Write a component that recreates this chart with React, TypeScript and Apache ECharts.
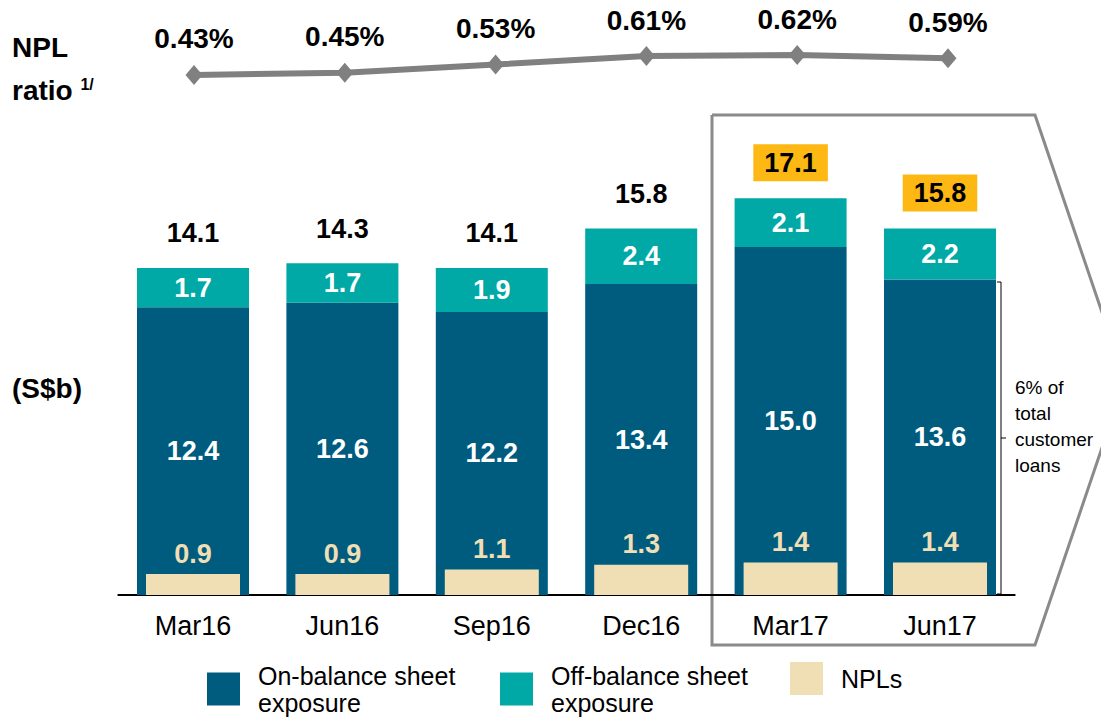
import React, { useEffect, useRef } from "react";
import * as echarts from "echarts";

const categories = ["Mar16", "Jun16", "Sep16", "Dec16", "Mar17", "Jun17"];
const onBalance = [12.4, 12.6, 12.2, 13.4, 15.0, 13.6];
const offBalance = [1.7, 1.7, 1.9, 2.4, 2.1, 2.2];
const npls = [0.9, 0.9, 1.1, 1.3, 1.4, 1.4];
const totals = [14.1, 14.3, 14.1, 15.8, 17.1, 15.8];
const nplRatio = [0.43, 0.45, 0.53, 0.61, 0.62, 0.59];
const highlighted = ["Mar17", "Jun17"];

const FONT = "'Liberation Sans', Arial, sans-serif";
const DARK = "#005C7F";
const TEAL = "#00A9A6";
const BEIGE = "#F0DFB5";
const YELLOW = "#FDB813";
const GREY = "#808080";

const ON_NAME = "On-balance sheet exposure";
const OFF_NAME = "Off-balance sheet exposure";
const NPL_NAME = "NPLs";

const legendText: Record<string, string> = {
  [ON_NAME]: "On-balance sheet\nexposure",
  [OFF_NAME]: "Off-balance sheet\nexposure",
  [NPL_NAME]: "NPLs",
};

function makeLegend(name: string, left: number) {
  return {
    data: [name],
    left,
    top: 662,
    padding: 0,
    orient: "horizontal",
    itemWidth: 33,
    itemHeight: 33,
    icon: "rect",
    selectedMode: false,
    formatter: (n: string) => legendText[n],
    textStyle: {
      fontFamily: FONT,
      fontSize: 25,
      lineHeight: 27,
      color: "#000",
      padding: [0, 0, 0, 13],
    },
  };
}

export default function App() {
  const ref = useRef<HTMLDivElement>(null);

  useEffect(() => {
    if (!ref.current) return;
    const chart = echarts.init(ref.current, undefined, { renderer: "svg" });
    const option = {
      animation: false,
      backgroundColor: "#ffffff",
      textStyle: { fontFamily: FONT },
      grid: [
        { left: 118.3, right: 86.3, top: 131, height: 464 },
        { left: 118.6, right: 77.6, top: 46.6, height: 42 },
      ],
      legend: [
        makeLegend(ON_NAME, 207),
        makeLegend(OFF_NAME, 500),
        makeLegend(NPL_NAME, 790),
      ],
      xAxis: [
        {
          type: "category",
          gridIndex: 0,
          data: categories,
          axisLine: { lineStyle: { color: "#000", width: 2 } },
          axisTick: { show: false },
          axisLabel: {
            fontFamily: FONT,
            fontSize: 27,
            color: "#000",
            margin: 17,
          },
        },
        {
          type: "category",
          gridIndex: 0,
          data: categories,
          show: false,
        },
        {
          type: "category",
          gridIndex: 1,
          data: categories,
          show: false,
        },
      ],
      yAxis: [
        { type: "value", gridIndex: 0, min: 0, max: 20, show: false },
        { type: "value", gridIndex: 1, min: 0.3, max: 0.7, show: false },
      ],
      series: [
        {
          name: ON_NAME,
          type: "bar",
          xAxisIndex: 0,
          yAxisIndex: 0,
          stack: "exp",
          barWidth: 112,
          data: onBalance,
          itemStyle: { color: DARK },
          label: {
            show: true,
            position: "inside",
            color: "#fff",
            fontWeight: "bold",
            fontSize: 27,
            fontFamily: FONT,
            formatter: (p: any) => p.value.toFixed(1),
          },
        },
        {
          name: OFF_NAME,
          type: "bar",
          xAxisIndex: 0,
          yAxisIndex: 0,
          stack: "exp",
          barWidth: 112,
          data: offBalance,
          itemStyle: { color: TEAL },
          label: {
            show: true,
            position: "inside",
            color: "#fff",
            fontWeight: "bold",
            fontSize: 27,
            fontFamily: FONT,
            formatter: (p: any) => p.value.toFixed(1),
          },
        },
        {
          name: NPL_NAME,
          type: "bar",
          xAxisIndex: 1,
          yAxisIndex: 0,
          barWidth: 94,
          data: npls,
          itemStyle: { color: BEIGE },
          label: {
            show: true,
            position: "top",
            distance: 7,
            color: BEIGE,
            fontWeight: "bold",
            fontSize: 27,
            fontFamily: FONT,
            formatter: (p: any) => p.value.toFixed(1),
          },
        },
        {
          name: "Total",
          type: "scatter",
          xAxisIndex: 0,
          yAxisIndex: 0,
          symbolSize: 0,
          silent: true,
          itemStyle: { opacity: 1 },
          data: totals.map((v, i) => {
            const hl = highlighted.includes(categories[i]);
            return {
              value: v,
              label: hl
                ? {
                    backgroundColor: YELLOW,
                    padding: [5, 11, 5, 11],
                    distance: 17,
                  }
                : {},
            };
          }),
          label: {
            show: true,
            position: "top",
            distance: 21,
            color: "#000",
            fontWeight: "bold",
            fontSize: 27,
            fontFamily: FONT,
            formatter: (p: any) => p.value.toFixed(1),
          },
        },
        {
          name: "NPL ratio",
          type: "line",
          xAxisIndex: 2,
          yAxisIndex: 1,
          data: nplRatio,
          symbol: "diamond",
          symbolSize: [17, 20],
          lineStyle: { color: GREY, width: 6 },
          itemStyle: { color: GREY },
          label: {
            show: true,
            position: "top",
            distance: 12,
            color: "#000",
            fontWeight: "bold",
            fontSize: 28,
            fontFamily: FONT,
            formatter: (p: any) => p.value.toFixed(2) + "%",
          },
        },
      ],
      graphic: [
        {
          type: "polyline",
          shape: {
            points: [
              [712, 115],
              [1035, 115],
              [1125, 380],
              [1035, 645],
              [712, 645],
              [712, 115],
            ],
          },
          style: { stroke: "#8a8a8a", lineWidth: 3, fill: "none" },
          z: -1,
        },
        {
          type: "polyline",
          shape: {
            points: [
              [997, 282],
              [1001, 282],
              [1001, 594],
              [997, 594],
            ],
          },
          style: { stroke: "#000", lineWidth: 1, fill: "none" },
        },
        {
          type: "line",
          shape: { x1: 1001, y1: 438, x2: 1006, y2: 438 },
          style: { stroke: "#000", lineWidth: 1 },
        },
        {
          type: "text",
          x: 1015,
          y: 374,
          style: {
            text: "6% of\ntotal\ncustomer\nloans",
            fontFamily: FONT,
            fontSize: 19,
            lineHeight: 26,
            fill: "#000",
          },
        },
        {
          type: "text",
          x: 12,
          y: 33,
          style: {
            text: "NPL",
            fontFamily: FONT,
            fontSize: 28,
            fontWeight: "bold",
            fill: "#000",
          },
        },
        {
          type: "text",
          x: 12,
          y: 76,
          style: {
            text: "{m|ratio }{s|1/}",
            rich: {
              m: {
                fontFamily: FONT,
                fontSize: 28,
                fontWeight: "bold",
                color: "#000",
              },
              s: {
                fontFamily: FONT,
                fontSize: 16,
                fontWeight: "bold",
                color: "#000",
                verticalAlign: "top",
                padding: [0, 0, 10, 0],
              },
            },
          },
        },
        {
          type: "text",
          x: 12,
          y: 374,
          style: {
            text: "(S$b)",
            fontFamily: FONT,
            fontSize: 28,
            fontWeight: "bold",
            fill: "#000",
          },
        },
      ],
    };
    chart.setOption(option as any);
    return () => chart.dispose();
  }, []);

  return (
    <div
      ref={ref}
      style={{ position: "fixed", left: 0, top: 0, width: 1101, height: 720 }}
    />
  );
}
